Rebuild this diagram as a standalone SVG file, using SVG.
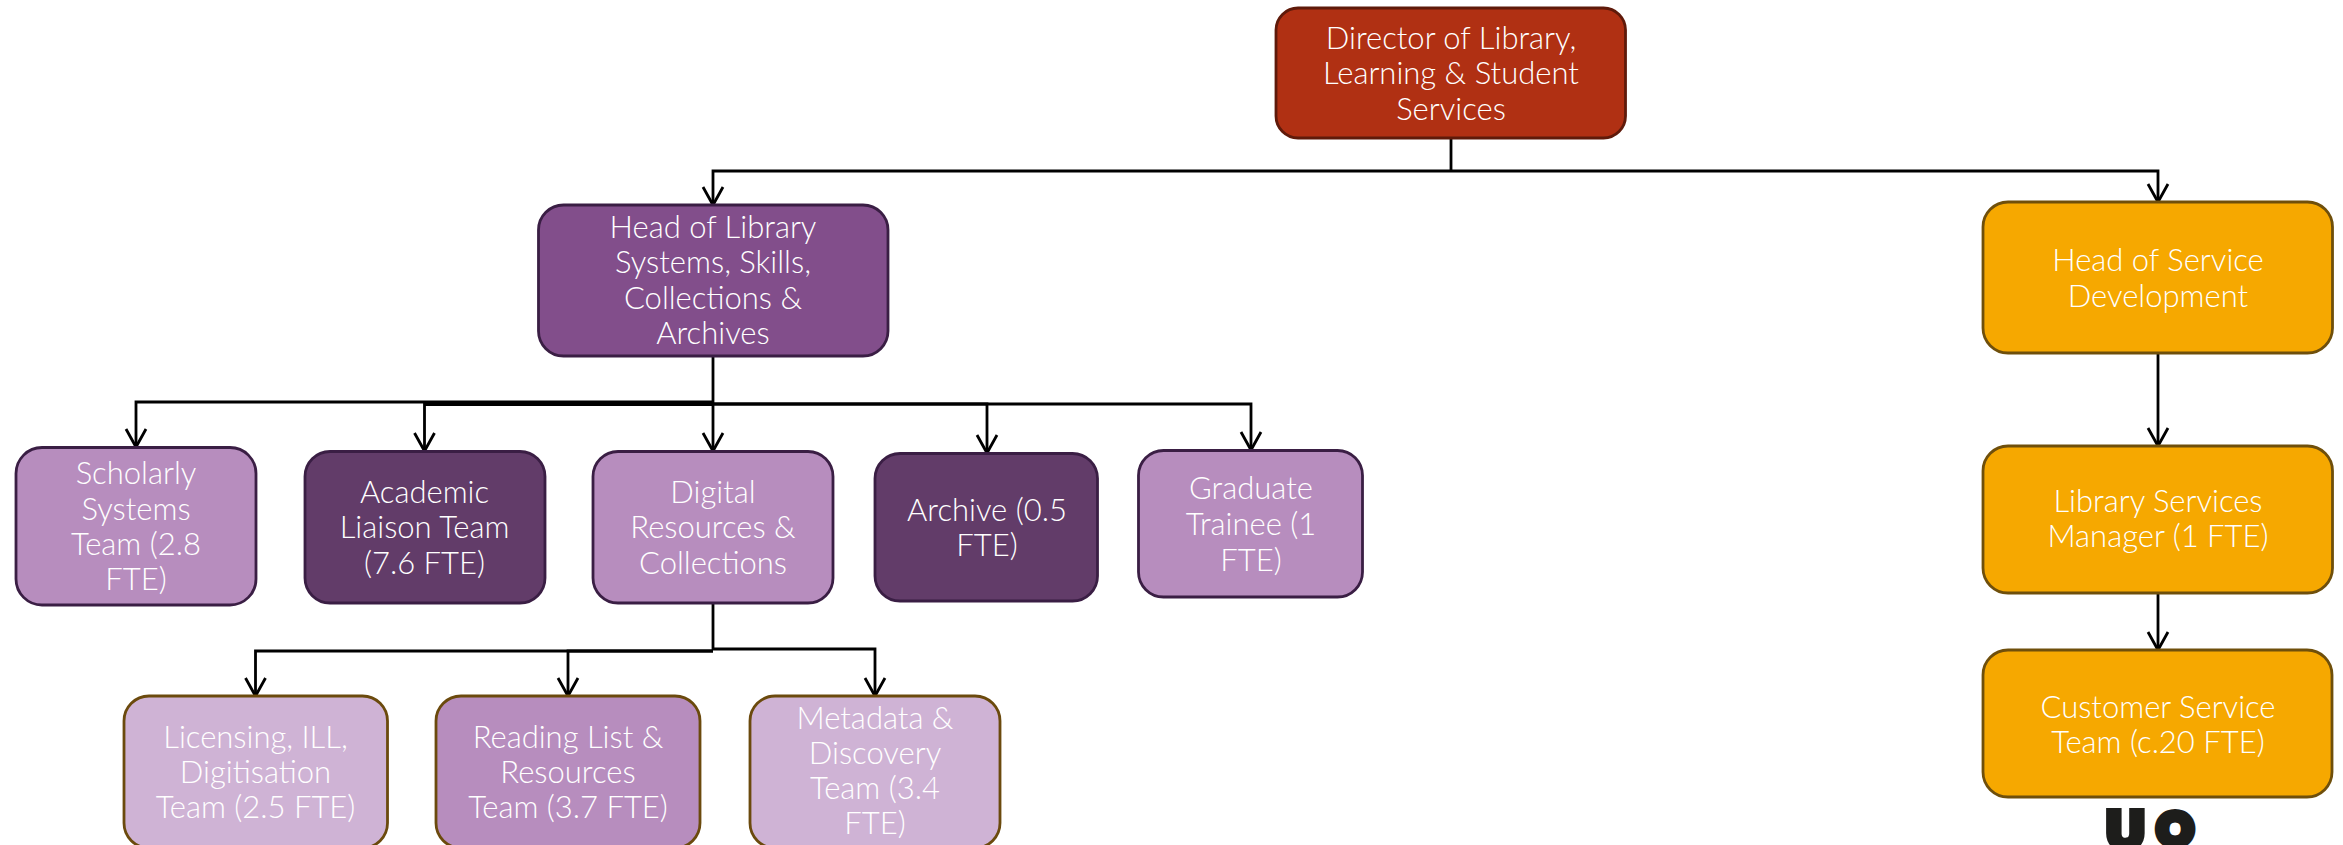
<svg xmlns="http://www.w3.org/2000/svg" width="2343" height="845" viewBox="0 0 2343 845">
<defs>
<style>
text{font-family:"Lato","Open Sans","Liberation Sans",sans-serif;font-weight:300;font-size:31px;fill:#fff;text-anchor:middle}
.c{fill:none;stroke:#000;stroke-width:2.8}
.a{marker-end:url(#arrow)}
text.logo{font-family:"Lato","Liberation Sans",sans-serif;font-weight:900;fill:#1d1d1b;stroke:#1d1d1b;stroke-width:8}
.box{stroke-width:2.8}
.red{fill:#b03013;stroke:#5f1a0a}
.pur{fill:#824e8b;stroke:#3a1e44}
.mid{fill:#b78dbe;stroke:#3a1e44}
.drk{fill:#623c69;stroke:#3a1e44}
.lgt{fill:#cfb3d5;stroke:#6b4a0d}
.mdb{fill:#b78dbe;stroke:#6b4a0d}
.org{fill:#f6a800;stroke:#6f4f0b}
</style>
<marker id="arrow" markerUnits="userSpaceOnUse" markerWidth="26" markerHeight="24" refX="13" refY="20" orient="auto-start-reverse" viewBox="0 0 26 24" overflow="visible"><path d="M3,2 L13,20 L23,2" transform="rotate(-90 13 20)" fill="none" stroke="#000" stroke-width="2.8"/></marker>
</defs>
<rect width="2343" height="845" fill="#fff"/>
<g id="connectors">
<path class="c" d="M1451,138V171"/>
<path class="c a" d="M1451,171H713V205"/>
<path class="c a" d="M1451,171H2158V202"/>
<path class="c" d="M713,356V404"/>
<path class="c a" d="M713,402H136V447"/>
<path class="c a" d="M713,404.500H424.500V451"/>
<path class="c a" d="M713,403V451"/>
<path class="c a" d="M713,404H987V453"/>
<path class="c a" d="M713,404H1251V450"/>
<path class="c" d="M713,603V650"/>
<path class="c a" d="M713,651H255.500V696"/>
<path class="c a" d="M713,651H568V696"/>
<path class="c a" d="M713,649H875V696"/>
<path class="c a" d="M2158,353V446"/>
<path class="c a" d="M2158,593V650"/>
</g>
<g id="director"><rect class="box red" x="1276" y="8" width="349.500" height="130" rx="22"/><text x="1451" y="49">Director of Library,</text><text x="1451" y="84">Learning &amp; Student</text><text x="1451" y="120">Services</text></g>
<g id="head-library"><rect class="box pur" x="538.500" y="205" width="349.500" height="151" rx="25"/><text x="713" y="238">Head of Library</text><text x="713" y="273">Systems, Skills,</text><text x="713" y="308.500">Collections &amp;</text><text x="713" y="344">Archives</text></g>
<g id="head-service"><rect class="box org" x="1983" y="202" width="349.500" height="151" rx="25"/><text x="2158" y="271">Head of Service</text><text x="2158" y="306.500">Development</text></g>
<g id="scholarly"><rect class="box mid" x="16" y="447.500" width="240" height="157.500" rx="26"/><text x="136" y="484">Scholarly</text><text x="136" y="519.500">Systems</text><text x="136" y="555">Team (2.8</text><text x="136" y="590">FTE)</text></g>
<g id="academic"><rect class="box drk" x="305" y="451.500" width="240" height="151.500" rx="25"/><text x="424.500" y="503">Academic</text><text x="424.500" y="538">Liaison Team</text><text x="424.500" y="573.500">(7.6 FTE)</text></g>
<g id="digital"><rect class="box mid" x="593" y="451.500" width="240" height="151.500" rx="25"/><text x="713" y="503">Digital</text><text x="713" y="538">Resources &amp;</text><text x="713" y="573.500">Collections</text></g>
<g id="archive"><rect class="box drk" x="875" y="453.500" width="222.500" height="147.500" rx="25"/><text x="987" y="521">Archive (0.5</text><text x="987" y="556">FTE)</text></g>
<g id="graduate"><rect class="box mid" x="1138.500" y="450.500" width="224" height="146.500" rx="25"/><text x="1251" y="499">Graduate</text><text x="1251" y="535">Trainee (1</text><text x="1251" y="571">FTE)</text></g>
<g id="licensing"><rect class="box lgt" x="124" y="696" width="263.500" height="152" rx="25"/><text x="255.500" y="748">Licensing, ILL,</text><text x="255.500" y="783">Digitisation</text><text x="255.500" y="818">Team (2.5 FTE)</text></g>
<g id="reading"><rect class="box mdb" x="436" y="696" width="264" height="152" rx="25"/><text x="568" y="748">Reading List &amp;</text><text x="568" y="783">Resources</text><text x="568" y="818">Team (3.7 FTE)</text></g>
<g id="metadata"><rect class="box lgt" x="750" y="696" width="250" height="152" rx="25"/><text x="875" y="729">Metadata &amp;</text><text x="875" y="764">Discovery</text><text x="875" y="799">Team (3.4</text><text x="875" y="834">FTE)</text></g>
<g id="services-manager"><rect class="box org" x="1983" y="446" width="349.500" height="147" rx="25"/><text x="2158" y="512">Library Services</text><text x="2158" y="547">Manager (1 FTE)</text></g>
<g id="customer"><rect class="box org" x="1983" y="650" width="349" height="147" rx="25"/><text x="2158" y="718">Customer Service</text><text x="2158" y="753">Team (c.20 FTE)</text></g>
<g id="logo"><text class="logo" x="2125.500" y="848" style="font-size:50px">U</text><text class="logo" x="2175" y="845" style="font-size:44px">O</text></g>
</svg>
